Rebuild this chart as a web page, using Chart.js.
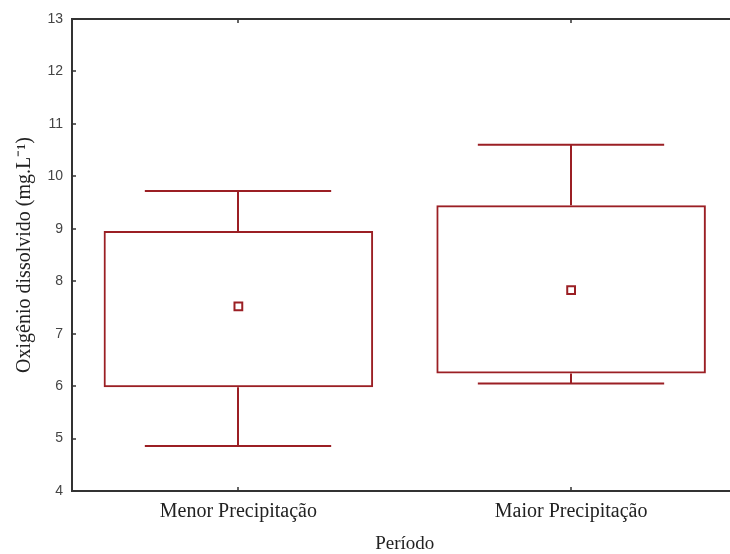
<!DOCTYPE html>
<html>
<head>
<meta charset="utf-8">
<script src="https://cdn.jsdelivr.net/npm/chart.js@4/dist/chart.umd.min.js"></script>
<style>
  html, body { margin: 0; padding: 0; background: #fff; overflow: hidden; }
  #chart { display: block; }
</style>
</head>
<body>
<canvas id="chart" width="745" height="554"></canvas>
<script>
  'use strict';

  // values
  const categories = ['Menor Precipitação', 'Maior Precipitação'];
  const means = [7.52, 7.83];
  const boxLow = [5.98, 6.24];
  const boxHigh = [8.96, 9.45];
  const whiskerLow = [4.86, 6.05];
  const whiskerHigh = [9.72, 10.60];
  const yMin = 4;
  const yMax = 13;

  const boxColor = '#9b1f24';
  const axisColor = '#333333';
  const serif = '"Liberation Serif", "Times New Roman", serif';

  // whiskers, plus the frame with inward ticks
  const boxExtras = {
    id: 'boxExtras',
    afterDatasetsDraw(chart) {
      const ctx = chart.ctx;
      const area = chart.chartArea;
      const x = chart.scales.x;
      const y = chart.scales.y;
      const catWidth = x.width / categories.length;

      ctx.save();
      ctx.strokeStyle = boxColor;
      ctx.lineWidth = 2;
      categories.forEach(function(cat, i){
        const cx = Math.round(x.getPixelForValue(i));
        const half = catWidth * 0.28;
        const yLo = y.getPixelForValue(whiskerLow[i]);
        const yHi = y.getPixelForValue(whiskerHigh[i]);
        const yQ1 = y.getPixelForValue(boxLow[i]);
        const yQ3 = y.getPixelForValue(boxHigh[i]);
        ctx.beginPath();
        ctx.moveTo(cx, yQ3); ctx.lineTo(cx, yHi);
        ctx.moveTo(cx - half, yHi); ctx.lineTo(cx + half, yHi);
        ctx.moveTo(cx, yQ1); ctx.lineTo(cx, yLo);
        ctx.moveTo(cx - half, yLo); ctx.lineTo(cx + half, yLo);
        ctx.stroke();
      });

      ctx.strokeStyle = axisColor;
      ctx.lineWidth = 2;
      ctx.beginPath();
      ctx.moveTo(area.left, area.top); ctx.lineTo(area.right, area.top);
      ctx.lineTo(area.right, area.bottom);
      ctx.stroke();

      ctx.lineWidth = 1.5;
      ctx.beginPath();
      y.ticks.forEach(function(t){
        const py = Math.round(y.getPixelForValue(t.value));
        ctx.moveTo(area.left, py); ctx.lineTo(area.left + 4, py);
      });
      categories.forEach(function(cat, i){
        const px = Math.round(x.getPixelForValue(i));
        ctx.moveTo(px, area.bottom); ctx.lineTo(px, area.bottom - 4);
        ctx.moveTo(px, area.top); ctx.lineTo(px, area.top + 4);
      });
      ctx.stroke();
      ctx.restore();
    }
  };

  const boxData = categories.map(function(cat, i){
    return [boxLow[i], boxHigh[i]];
  });

  // eslint-disable-next-line no-undef, no-unused-vars
  const myChart = new Chart(document.getElementById('chart'), {
    data: {
      labels: categories,
      datasets: [
        {
          type: 'bar',
          data: boxData,
          backgroundColor: 'rgba(0,0,0,0)',
          borderColor: boxColor,
          borderWidth: 2,
          borderSkipped: false,
          categoryPercentage: 1,
          barPercentage: 0.81,
        },
        {
          type: 'line',
          data: means,
          showLine: false,
          pointStyle: 'rect',
          pointRadius: 5.5,
          pointBorderWidth: 2,
          pointBackgroundColor: '#ffffff',
          pointBorderColor: boxColor,
        }
      ]
    },
    options: {
      responsive: false,
      animation: false,
      layout: {
        padding: { top: 19, right: 4, left: 0, bottom: 0 },
      },
      plugins: {
        legend: { display: false },
        tooltip: { enabled: false },
      },
      scales: {
        x: {
          type: 'category',
          offset: true,
          grid: { display: false, drawTicks: false },
          border: { display: true, color: axisColor, width: 2 },
          ticks: {
            color: '#222222',
            padding: 9,
            maxRotation: 0,
            font: { family: serif, size: 20 },
          },
          title: {
            display: true,
            text: 'Período',
            color: '#222222',
            padding: 0,
            font: { family: serif, size: 19, lineHeight: 1 },
          },
          afterFit: function(scale){ scale.height = 63; },
        },
        y: {
          min: yMin,
          max: yMax,
          grid: { display: false, drawTicks: false },
          border: { display: true, color: axisColor, width: 2 },
          ticks: {
            stepSize: 1,
            color: '#444444',
            padding: 9,
            font: { family: '"Liberation Sans", Arial, sans-serif', size: 14 },
          },
          title: {
            display: true,
            text: 'Oxigênio dissolvido (mg.L⁻¹)',
            color: '#222222',
            padding: { top: 13, bottom: 0 },
            font: { family: serif, size: 20 },
          },
          afterFit: function(scale){ scale.width = 72; },
        }
      }
    },
    plugins: [boxExtras],
  });
</script>
</body>
</html>
